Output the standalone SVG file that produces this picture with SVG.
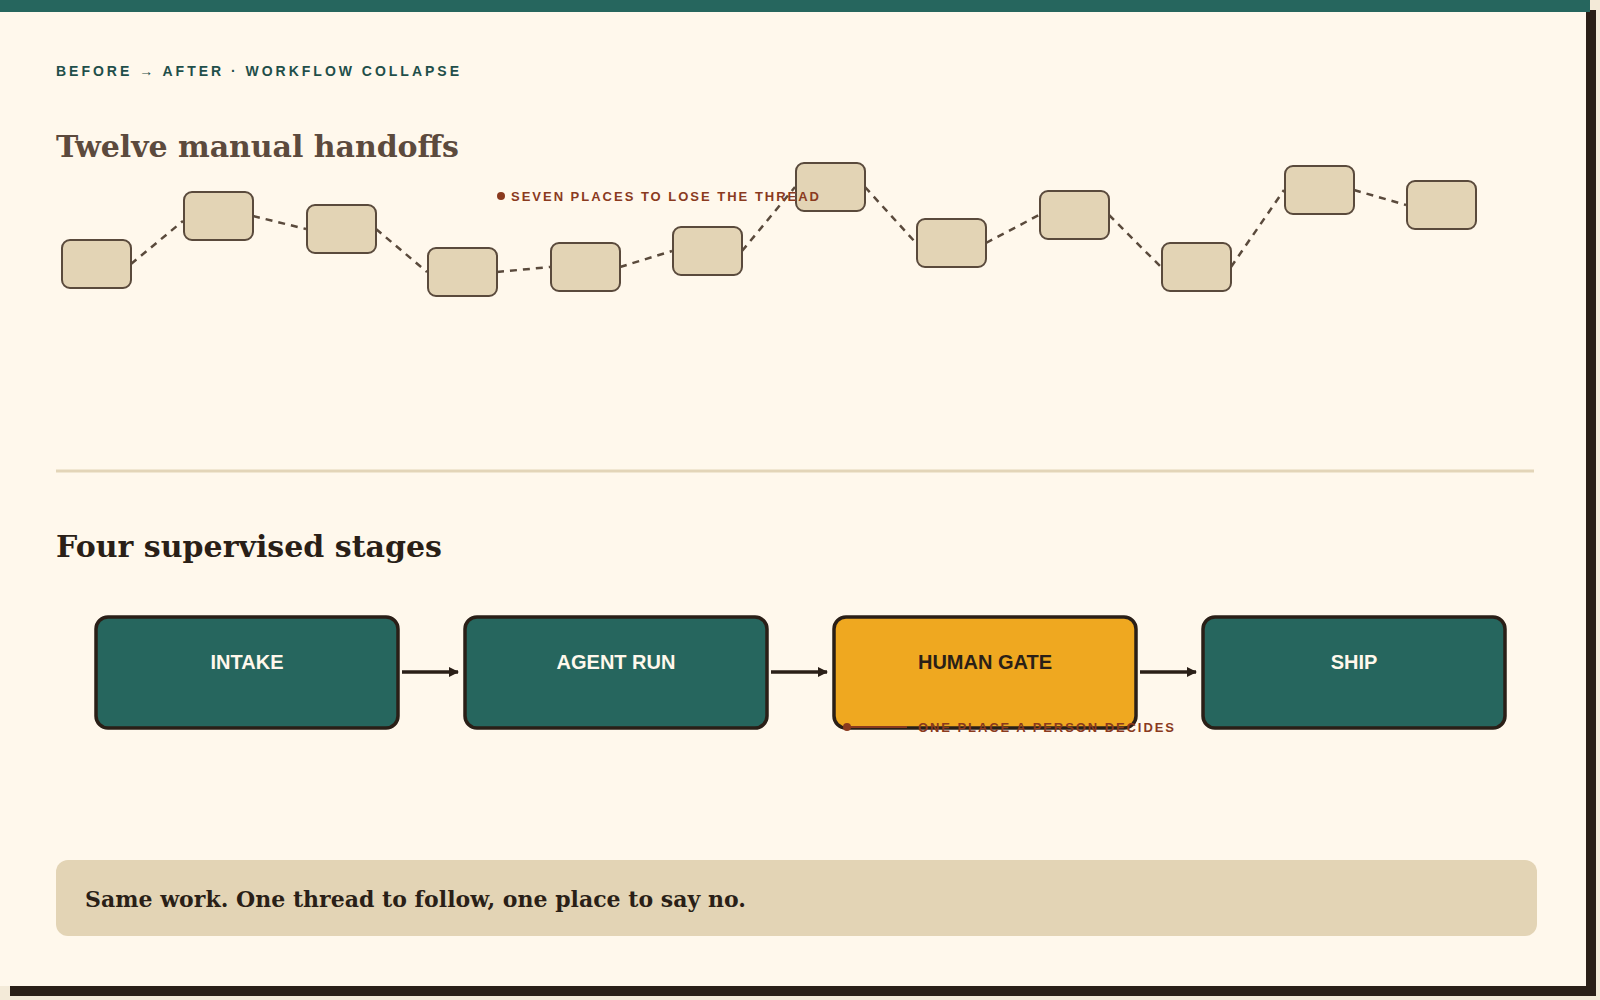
<svg xmlns="http://www.w3.org/2000/svg" width="1600" height="1000" viewBox="0 0 1600 1000">
<style>
.h{fill:#e3d4b5;stroke:#5a4a3c;stroke-width:2}
.d{stroke:#5a4a3c;stroke-width:2.5;stroke-dasharray:7 6;fill:none}
.s{stroke:#2a1f17;stroke-width:3.5}
.t{fill:#26665e}
.lab{font-family:"Liberation Sans",Arial,sans-serif;font-weight:bold;font-size:20px;text-anchor:middle}
.ann{font-family:"Liberation Sans",Arial,sans-serif;font-weight:bold;font-size:13px;letter-spacing:2px;fill:#8a3a1e}
</style>
<defs><marker id="ar" markerWidth="10" markerHeight="10" refX="9" refY="5" orient="auto" markerUnits="userSpaceOnUse" viewBox="0 0 10 10"><path d="M0,0 L10,5 L0,10 z" fill="#2a1f17"/></marker></defs>
<rect width="1600" height="1000" fill="#f3ead8"/>
<rect x="10" y="10" width="1586" height="986" fill="#2a1f17"/>
<rect width="1586" height="986" fill="#fff8ec"/>
<rect width="1590" height="12" fill="#26665e"/>
<text x="56" y="76" font-family="Liberation Sans,Arial,sans-serif" font-weight="bold" font-size="14" letter-spacing="3" fill="#1f4f4a" textLength="406">BEFORE → AFTER · WORKFLOW COLLAPSE</text>
<text x="56" y="157" font-family="DejaVu Serif,serif" font-weight="bold" font-size="30" fill="#5c4a3d" textLength="403">Twelve manual handoffs</text>
<g id="connectors">
<polyline class="d" points="131,264 183,221"/>
<polyline class="d" points="253,216 306,229"/>
<polyline class="d" points="376,229 427,272"/>
<polyline class="d" points="497,272 550,267"/>
<polyline class="d" points="620,267 672,251"/>
<polyline class="d" points="742,251 795,187"/>
<polyline class="d" points="865,187 916,243"/>
<polyline class="d" points="986,243 1039,215"/>
<polyline class="d" points="1109,215 1161,267"/>
<polyline class="d" points="1231,267 1284,190"/>
<polyline class="d" points="1354,190 1406,205"/>
<line class="s" x1="402" y1="672" x2="458" y2="672" marker-end="url(#ar)"/>
<line class="s" x1="771" y1="672" x2="827" y2="672" marker-end="url(#ar)"/>
<line class="s" x1="1140" y1="672" x2="1196" y2="672" marker-end="url(#ar)"/>
</g>
<g id="h1"><rect class="h" x="62" y="240" width="69" height="48" rx="8"/></g>
<g id="h2"><rect class="h" x="184" y="192" width="69" height="48" rx="8"/></g>
<g id="h3"><rect class="h" x="307" y="205" width="69" height="48" rx="8"/></g>
<g id="h4"><rect class="h" x="428" y="248" width="69" height="48" rx="8"/></g>
<g id="h5"><rect class="h" x="551" y="243" width="69" height="48" rx="8"/></g>
<g id="h6"><rect class="h" x="673" y="227" width="69" height="48" rx="8"/></g>
<g id="h7"><rect class="h" x="796" y="163" width="69" height="48" rx="8"/></g>
<g id="h8"><rect class="h" x="917" y="219" width="69" height="48" rx="8"/></g>
<g id="h9"><rect class="h" x="1040" y="191" width="69" height="48" rx="8"/></g>
<g id="h10"><rect class="h" x="1162" y="243" width="69" height="48" rx="8"/></g>
<g id="h11"><rect class="h" x="1285" y="166" width="69" height="48" rx="8"/></g>
<g id="h12"><rect class="h" x="1407" y="181" width="69" height="48" rx="8"/></g>
<g id="ann1"><circle cx="501" cy="196" r="4" fill="#8a3a1e"/><text class="ann" x="511" y="201" textLength="310">SEVEN PLACES TO LOSE THE THREAD</text></g>
<line x1="56" y1="471" x2="1534" y2="471" stroke="#e3d5b8" stroke-width="3"/>
<text x="56" y="557" font-family="DejaVu Serif,serif" font-weight="bold" font-size="30" fill="#2a1f17" textLength="386">Four supervised stages</text>
<g id="intake"><rect class="t s" x="96" y="617" width="302" height="111" rx="12"/><text class="lab" x="247" y="669" fill="#fff8ec">INTAKE</text></g>
<g id="agent"><rect class="t s" x="465" y="617" width="302" height="111" rx="12"/><text class="lab" x="616" y="669" fill="#fff8ec">AGENT RUN</text></g>
<g id="gate"><rect class="s" fill="#efa820" x="834" y="617" width="302" height="111" rx="12"/><text class="lab" x="985" y="669" fill="#2a1f17">HUMAN GATE</text></g>
<g id="ship"><rect class="t s" x="1203" y="617" width="302" height="111" rx="12"/><text class="lab" x="1354" y="669" fill="#fff8ec">SHIP</text></g>
<g id="ann2"><circle cx="847" cy="727" r="4" fill="#8a3a1e"/><line x1="847" y1="727" x2="907" y2="727" stroke="#8a3a1e" stroke-width="2"/><text class="ann" x="918" y="732" textLength="258">ONE PLACE A PERSON DECIDES</text></g>
<g id="callout"><rect x="56" y="860" width="1481" height="76" rx="12" fill="#e3d4b5"/><text x="85" y="907" font-family="DejaVu Serif,serif" font-weight="bold" font-size="22" fill="#2a1f17" textLength="661">Same work. One thread to follow, one place to say no.</text></g>
</svg>
